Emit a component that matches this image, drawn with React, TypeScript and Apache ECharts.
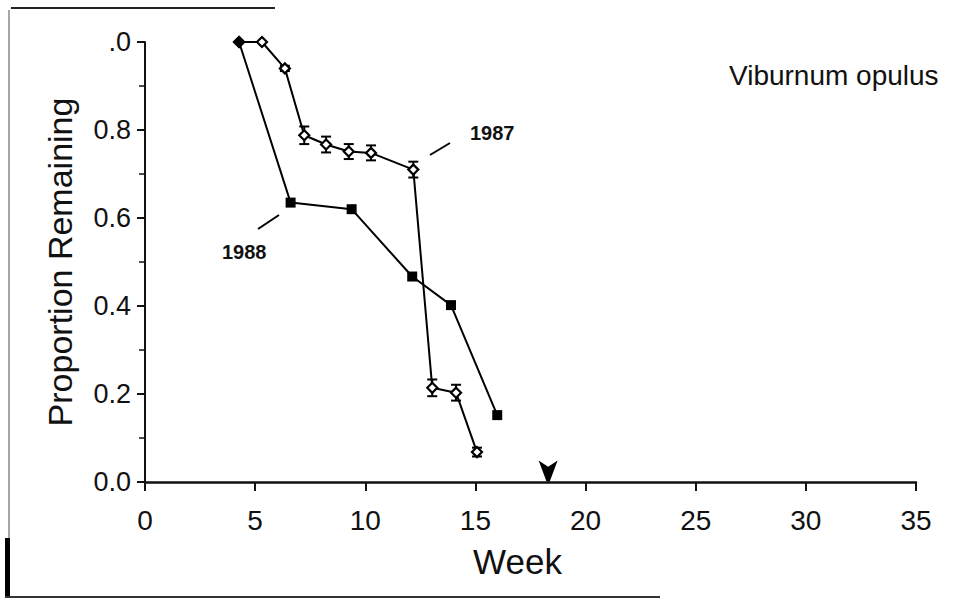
import React, { useEffect, useRef } from "react";
import * as echarts from "echarts";

// ---- data ----
const weeks1987 = [4.27, 5.31, 6.35, 7.23, 8.22, 9.25, 10.26, 12.18, 13.04, 14.12, 15.07];
const prop1987 = [1.0, 1.0, 0.94, 0.788, 0.767, 0.751, 0.748, 0.71, 0.214, 0.203, 0.068];
const err1987 = [0, 0, 0.006, 0.02, 0.018, 0.017, 0.017, 0.018, 0.019, 0.018, 0.01];

const weeks1988 = [4.27, 6.61, 9.38, 12.13, 13.89, 15.99];
const prop1988 = [1.0, 0.635, 0.62, 0.467, 0.402, 0.152];

const arrowWeek = [18.3];

const xTicks = [0, 5, 10, 15, 20, 25, 30, 35];
const yTickLabels: Record<string, string> = {
  "0": "0.0",
  "0.2": "0.2",
  "0.4": "0.4",
  "0.6": "0.6",
  "0.8": "0.8",
  "1": ".0",
};

const FONT = "'Liberation Sans', Arial, Helvetica, sans-serif";
const INK = "#111";

export default function App() {
  const ref = useRef<HTMLDivElement>(null);

  useEffect(() => {
    if (!ref.current) return;
    const chart = echarts.init(ref.current, undefined, { renderer: "svg" });

    const d1987 = weeks1987.map((w, i) => [w, prop1987[i]]);
    const e1987 = weeks1987.map((w, i) => [w, prop1987[i], err1987[i]]);
    const d1988 = weeks1988.map((w, i) =>
      i === 0
        ? { value: [w, prop1988[i]], symbol: "diamond", symbolSize: 13 }
        : { value: [w, prop1988[i]] }
    );

    chart.setOption({
      animation: false,
      backgroundColor: "#fff",
      title: {
        text: "Viburnum opulus",
        left: 724,
        top: 56,
        textStyle: { fontFamily: FONT, fontSize: 28, fontWeight: "normal", color: INK },
      },
      grid: { left: 145, right: 54, top: 42, bottom: 118 },
      xAxis: {
        type: "value",
        min: xTicks[0],
        max: xTicks[xTicks.length - 1],
        interval: 5,
        name: "Week",
        nameLocation: "middle",
        nameGap: 62,
        nameTextStyle: {
          fontFamily: FONT,
          fontSize: 35,
          color: INK,
          padding: [0, 26, 0, 0],
        },
        axisLine: { show: true, lineStyle: { color: INK, width: 2.5 } },
        axisTick: { show: true, inside: false, length: 9, lineStyle: { color: INK, width: 2 } },
        axisLabel: { fontFamily: FONT, fontSize: 28, color: INK, margin: 24 },
        splitLine: { show: false },
      },
      yAxis: {
        type: "value",
        min: 0,
        max: 1,
        interval: 0.2,
        name: "Proportion Remaining",
        nameLocation: "middle",
        nameGap: 68,
        nameTextStyle: { fontFamily: FONT, fontSize: 34, color: INK },
        axisLine: { show: true, lineStyle: { color: INK, width: 2 } },
        axisTick: { show: true, inside: false, length: 8, lineStyle: { color: INK, width: 2 } },
        minorTick: { show: true, splitNumber: 2, length: 6, lineStyle: { color: INK, width: 1.5 } },
        axisLabel: {
          fontFamily: FONT,
          fontSize: 27,
          color: INK,
          margin: 14,
          formatter: (v: number) => yTickLabels[String(+v.toFixed(1))] ?? v.toFixed(1),
        },
        splitLine: { show: false },
      },
      series: [
        {
          name: "1987 error",
          type: "custom",
          z: 2,
          data: e1987,
          encode: { x: 0, y: 1 },
          renderItem: (params: any, api: any) => {
            const x = api.value(0);
            const y = api.value(1);
            const e = api.value(2);
            if (!e) return { type: "group", children: [] };
            const top = api.coord([x, y + e]);
            const bot = api.coord([x, y - e]);
            const hw = 5;
            const st = { stroke: "#000", lineWidth: 2 };
            return {
              type: "group",
              children: [
                { type: "line", shape: { x1: top[0], y1: top[1], x2: bot[0], y2: bot[1] }, style: st },
                { type: "line", shape: { x1: top[0] - hw, y1: top[1], x2: top[0] + hw, y2: top[1] }, style: st },
                { type: "line", shape: { x1: bot[0] - hw, y1: bot[1], x2: bot[0] + hw, y2: bot[1] }, style: st },
              ],
            };
          },
        },
        {
          name: "1987",
          type: "line",
          z: 3,
          data: d1987,
          symbol: "diamond",
          symbolSize: 10,
          showSymbol: true,
          itemStyle: { color: "#fff", borderColor: "#000", borderWidth: 2.2 },
          lineStyle: { color: "#000", width: 2 },
        },
        {
          name: "1988",
          type: "line",
          z: 4,
          data: d1988,
          symbol: "rect",
          symbolSize: 10,
          showSymbol: true,
          itemStyle: { color: "#000", borderColor: "#000", borderWidth: 0 },
          lineStyle: { color: "#000", width: 2 },
        },
        {
          name: "arrow",
          type: "scatter",
          z: 5,
          data: arrowWeek.map((w) => [w, 0]),
          symbol: "path://M0,0 L9,6 L18,0 L10.5,20 L7.5,20 Z",
          symbolSize: [19, 21],
          symbolOffset: [0, -11],
          itemStyle: { color: "#000", opacity: 1 },
        },
      ],
      graphic: [
        // annotation leaders
        { type: "line", shape: { x1: 430, y1: 155, x2: 450, y2: 143 }, style: { stroke: "#000", lineWidth: 2 } },
        { type: "line", shape: { x1: 258, y1: 229, x2: 279, y2: 215 }, style: { stroke: "#000", lineWidth: 2 } },
        {
          type: "text",
          x: 470,
          y: 133,
          style: { text: "1987", font: `600 20px ${FONT}`, fill: INK, textVerticalAlign: "middle" },
        },
        {
          type: "text",
          x: 222,
          y: 252,
          style: { text: "1988", font: `600 20px ${FONT}`, fill: INK, textVerticalAlign: "middle" },
        },
        // scan borders
        { type: "line", shape: { x1: 11, y1: 8, x2: 275, y2: 8 }, style: { stroke: "#222", lineWidth: 2 } },
        { type: "line", shape: { x1: 9, y1: 10, x2: 9, y2: 540 }, style: { stroke: "#888", lineWidth: 1.5 } },
        { type: "rect", shape: { x: 5, y: 538, width: 5, height: 59 }, style: { fill: "#000" } },
        { type: "line", shape: { x1: 5, y1: 597, x2: 660, y2: 597 }, style: { stroke: "#333", lineWidth: 2 } },
      ],
    });

    return () => chart.dispose();
  }, []);

  return (
    <div
      ref={ref}
      style={{ position: "fixed", left: 0, top: 0, width: 970, height: 600, background: "#fff" }}
    />
  );
}
